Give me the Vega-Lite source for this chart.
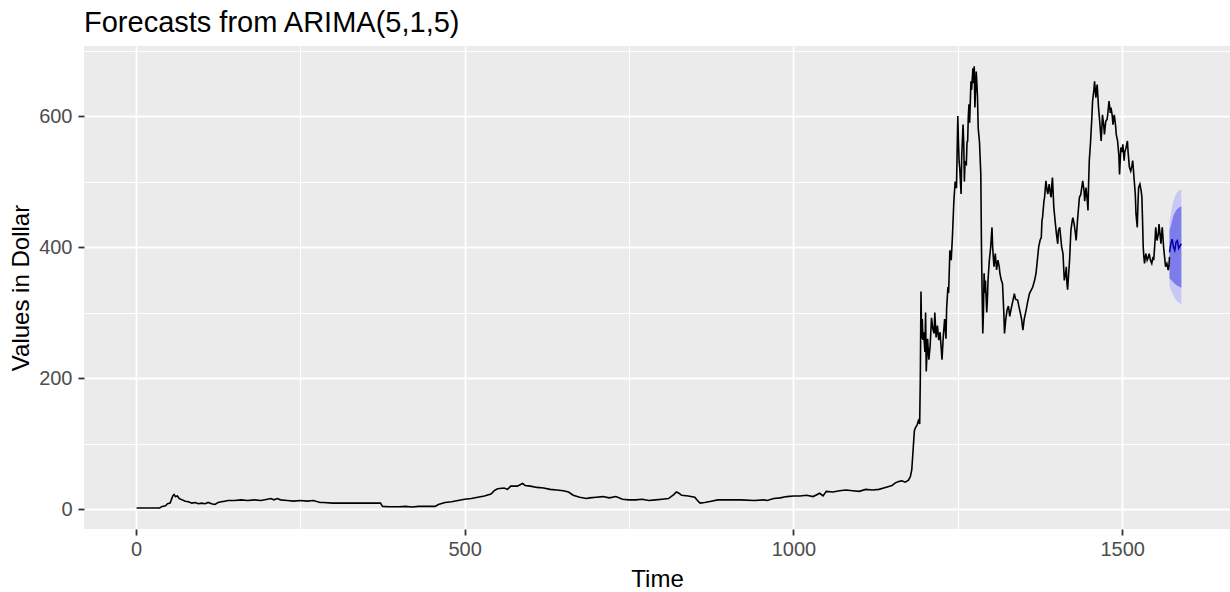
{
  "$schema": "https://vega.github.io/schema/vega-lite/v6.json",
  "autosize": "none",
  "width": 1146,
  "height": 483,
  "padding": {"left": 84, "top": 46, "right": 0, "bottom": 63},
  "background": "white",
  "title": {"text": "Forecasts from ARIMA(5,1,5)", "anchor": "start", "frame": "group", "font": "Liberation Sans", "fontSize": 29, "fontWeight": "normal", "color": "black", "offset": -15, "baseline": "alphabetic"},
  "config": {
    "view": {"fill": "#EBEBEB", "stroke": null},
    "axis": {"ticks": true, "tickSize": 6, "tickWidth": 1.8, "tickColor": "#333333", "domain": false, "gridColor": "white", "labelFont": "Liberation Sans", "labelFontSize": 20, "labelColor": "#4D4D4D", "titleFont": "Liberation Sans", "titleFontSize": 24, "titleFontWeight": "normal", "titleColor": "black"}
  },
  "resolve": {"axis": {"x": "independent", "y": "independent"}},
  "datasets": {
    "series": [
      {"t":1,"v":1.5},{"t":10,"v":1.5},{"t":20,"v":1.5},{"t":30,"v":1.5},{"t":36,"v":1.6},{"t":40,"v":4},{"t":45,"v":5},{"t":48,"v":8},{"t":52,"v":9},{"t":56,"v":20},{"t":58,"v":22},{"t":60,"v":19},{"t":63,"v":20},{"t":66,"v":16},{"t":70,"v":14},{"t":75,"v":12},{"t":80,"v":11},{"t":85,"v":9},{"t":90,"v":10},{"t":95,"v":8},{"t":100,"v":9},{"t":105,"v":8},{"t":110,"v":10},{"t":115,"v":8},{"t":120,"v":7},{"t":125,"v":10},{"t":130,"v":11},{"t":135,"v":12},{"t":140,"v":13},{"t":150,"v":13},{"t":160,"v":14},{"t":170,"v":13},{"t":180,"v":14},{"t":190,"v":13},{"t":200,"v":15},{"t":205,"v":16},{"t":210,"v":14},{"t":215,"v":16},{"t":220,"v":14},{"t":230,"v":13},{"t":240,"v":12},{"t":250,"v":13},{"t":260,"v":12},{"t":270,"v":13},{"t":280,"v":10},{"t":285,"v":10},{"t":300,"v":9},{"t":320,"v":9},{"t":340,"v":9},{"t":360,"v":9},{"t":372,"v":9},{"t":375,"v":4},{"t":385,"v":3.5},{"t":400,"v":3.5},{"t":410,"v":4},{"t":420,"v":3},{"t":430,"v":4},{"t":440,"v":4},{"t":455,"v":4},{"t":460,"v":7},{"t":470,"v":10},{"t":480,"v":11},{"t":490,"v":13},{"t":500,"v":15},{"t":510,"v":16},{"t":520,"v":18},{"t":530,"v":20},{"t":540,"v":23},{"t":545,"v":28},{"t":550,"v":31},{"t":560,"v":32},{"t":565,"v":30},{"t":570,"v":35},{"t":580,"v":35},{"t":588,"v":39},{"t":592,"v":36},{"t":600,"v":35},{"t":610,"v":33},{"t":620,"v":32},{"t":630,"v":30},{"t":640,"v":29},{"t":650,"v":28},{"t":658,"v":26},{"t":665,"v":21},{"t":675,"v":18},{"t":685,"v":16},{"t":690,"v":17},{"t":700,"v":18},{"t":710,"v":19},{"t":720,"v":17},{"t":730,"v":19},{"t":740,"v":15},{"t":750,"v":14},{"t":760,"v":14},{"t":770,"v":15},{"t":780,"v":13},{"t":790,"v":14},{"t":800,"v":15},{"t":810,"v":16},{"t":818,"v":22},{"t":822,"v":26},{"t":826,"v":24},{"t":830,"v":21},{"t":840,"v":20},{"t":850,"v":18},{"t":855,"v":12},{"t":858,"v":9},{"t":865,"v":10},{"t":875,"v":12},{"t":885,"v":14},{"t":900,"v":14},{"t":920,"v":14},{"t":940,"v":13},{"t":955,"v":14},{"t":960,"v":13},{"t":970,"v":16},{"t":980,"v":17},{"t":990,"v":19},{"t":1000,"v":20},{"t":1010,"v":20},{"t":1020,"v":21},{"t":1030,"v":19},{"t":1040,"v":24},{"t":1045,"v":20},{"t":1050,"v":27},{"t":1060,"v":26},{"t":1070,"v":28},{"t":1080,"v":29},{"t":1090,"v":28},{"t":1100,"v":27},{"t":1110,"v":30},{"t":1120,"v":29},{"t":1130,"v":30},{"t":1140,"v":33},{"t":1150,"v":36},{"t":1155,"v":40},{"t":1160,"v":42},{"t":1165,"v":43},{"t":1170,"v":41},{"t":1175,"v":44},{"t":1178,"v":50},{"t":1180,"v":60},{"t":1182,"v":90},{"t":1184,"v":120},{"t":1186,"v":125},{"t":1188,"v":128},{"t":1190,"v":135},{"t":1192,"v":130},{"t":1193,"v":200},{"t":1194,"v":332},{"t":1195,"v":260},{"t":1196,"v":290},{"t":1197,"v":258},{"t":1198,"v":270},{"t":1200,"v":240},{"t":1201,"v":300},{"t":1202,"v":210},{"t":1203,"v":235},{"t":1204,"v":260},{"t":1206,"v":228},{"t":1208,"v":250},{"t":1210,"v":292},{"t":1212,"v":275},{"t":1214,"v":268},{"t":1215,"v":300},{"t":1217,"v":262},{"t":1219,"v":280},{"t":1221,"v":258},{"t":1223,"v":270},{"t":1226,"v":228},{"t":1228,"v":265},{"t":1230,"v":290},{"t":1232,"v":260},{"t":1233,"v":306},{"t":1235,"v":339},{"t":1236,"v":330},{"t":1238,"v":395},{"t":1240,"v":380},{"t":1242,"v":420},{"t":1244,"v":470},{"t":1246,"v":500},{"t":1248,"v":490},{"t":1250,"v":600},{"t":1251,"v":560},{"t":1252,"v":530},{"t":1253,"v":520},{"t":1255,"v":481},{"t":1256,"v":540},{"t":1258,"v":587},{"t":1259,"v":560},{"t":1260,"v":500},{"t":1261,"v":530},{"t":1263,"v":527},{"t":1264,"v":560},{"t":1265,"v":562},{"t":1266,"v":600},{"t":1267,"v":618},{"t":1268,"v":590},{"t":1270,"v":653},{"t":1271,"v":640},{"t":1273,"v":673},{"t":1274,"v":650},{"t":1275,"v":676},{"t":1276,"v":613},{"t":1277,"v":640},{"t":1278,"v":668},{"t":1279,"v":650},{"t":1280,"v":628},{"t":1281,"v":582},{"t":1283,"v":560},{"t":1285,"v":511},{"t":1286,"v":400},{"t":1287,"v":330},{"t":1288,"v":268},{"t":1289,"v":300},{"t":1290,"v":360},{"t":1291,"v":330},{"t":1292,"v":349},{"t":1294,"v":300},{"t":1295,"v":319},{"t":1296,"v":350},{"t":1298,"v":380},{"t":1300,"v":400},{"t":1302,"v":430},{"t":1303,"v":400},{"t":1305,"v":370},{"t":1307,"v":390},{"t":1309,"v":365},{"t":1311,"v":380},{"t":1313,"v":370},{"t":1314,"v":360},{"t":1316,"v":350},{"t":1318,"v":344},{"t":1320,"v":300},{"t":1321,"v":268},{"t":1323,"v":290},{"t":1325,"v":304},{"t":1327,"v":310},{"t":1329,"v":294},{"t":1331,"v":305},{"t":1334,"v":319},{"t":1336,"v":329},{"t":1338,"v":320},{"t":1341,"v":319},{"t":1343,"v":309},{"t":1345,"v":300},{"t":1347,"v":290},{"t":1349,"v":273},{"t":1351,"v":290},{"t":1354,"v":304},{"t":1356,"v":315},{"t":1359,"v":329},{"t":1362,"v":335},{"t":1364,"v":339},{"t":1367,"v":350},{"t":1369,"v":360},{"t":1371,"v":380},{"t":1373,"v":400},{"t":1375,"v":410},{"t":1377,"v":415},{"t":1378,"v":440},{"t":1379,"v":446},{"t":1381,"v":470},{"t":1382,"v":476},{"t":1384,"v":501},{"t":1386,"v":485},{"t":1387,"v":481},{"t":1389,"v":496},{"t":1391,"v":480},{"t":1392,"v":476},{"t":1393,"v":495},{"t":1394,"v":506},{"t":1396,"v":461},{"t":1398,"v":440},{"t":1400,"v":420},{"t":1402,"v":405},{"t":1403,"v":425},{"t":1405,"v":430},{"t":1407,"v":410},{"t":1408,"v":400},{"t":1410,"v":390},{"t":1412,"v":349},{"t":1414,"v":360},{"t":1415,"v":370},{"t":1416,"v":345},{"t":1417,"v":335},{"t":1418,"v":350},{"t":1420,"v":380},{"t":1422,"v":425},{"t":1424,"v":440},{"t":1425,"v":445},{"t":1427,"v":435},{"t":1429,"v":420},{"t":1430,"v":410},{"t":1431,"v":425},{"t":1432,"v":440},{"t":1435,"v":476},{"t":1437,"v":480},{"t":1440,"v":501},{"t":1442,"v":486},{"t":1443,"v":470},{"t":1445,"v":491},{"t":1447,"v":470},{"t":1448,"v":456},{"t":1449,"v":500},{"t":1450,"v":532},{"t":1452,"v":562},{"t":1454,"v":600},{"t":1455,"v":623},{"t":1457,"v":640},{"t":1458,"v":653},{"t":1460,"v":628},{"t":1461,"v":640},{"t":1462,"v":648},{"t":1464,"v":613},{"t":1466,"v":590},{"t":1468,"v":562},{"t":1469,"v":580},{"t":1470,"v":602},{"t":1472,"v":585},{"t":1473,"v":572},{"t":1475,"v":592},{"t":1477,"v":595},{"t":1478,"v":602},{"t":1480,"v":623},{"t":1482,"v":605},{"t":1483,"v":613},{"t":1485,"v":600},{"t":1486,"v":587},{"t":1488,"v":602},{"t":1490,"v":585},{"t":1491,"v":572},{"t":1493,"v":562},{"t":1495,"v":540},{"t":1496,"v":511},{"t":1498,"v":552},{"t":1500,"v":545},{"t":1501,"v":557},{"t":1503,"v":532},{"t":1504,"v":545},{"t":1506,"v":552},{"t":1508,"v":562},{"t":1509,"v":545},{"t":1511,"v":522},{"t":1513,"v":516},{"t":1515,"v":525},{"t":1516,"v":532},{"t":1518,"v":506},{"t":1520,"v":480},{"t":1521,"v":451},{"t":1522,"v":440},{"t":1523,"v":430},{"t":1524,"v":465},{"t":1525,"v":491},{"t":1527,"v":496},{"t":1529,"v":485},{"t":1530,"v":476},{"t":1531,"v":440},{"t":1532,"v":400},{"t":1533,"v":385},{"t":1534,"v":375},{"t":1536,"v":390},{"t":1538,"v":380},{"t":1540,"v":385},{"t":1541,"v":390},{"t":1543,"v":380},{"t":1545,"v":375},{"t":1547,"v":385},{"t":1548,"v":380},{"t":1550,"v":410},{"t":1551,"v":430},{"t":1553,"v":410},{"t":1555,"v":420},{"t":1556,"v":435},{"t":1558,"v":415},{"t":1559,"v":405},{"t":1560,"v":420},{"t":1561,"v":430},{"t":1563,"v":400},{"t":1564,"v":390},{"t":1566,"v":370},{"t":1568,"v":375},{"t":1570,"v":365},{"t":1571,"v":370},{"t":1572,"v":385}
    ],
    "fc": [
      {"t":1572,"mean":392,"lo80":352,"hi80":426,"lo95":340,"hi95":440},
      {"t":1574,"mean":405,"lo80":350,"hi80":432,"lo95":335,"hi95":450},
      {"t":1576,"mean":412,"lo80":348,"hi80":440,"lo95":330,"hi95":462},
      {"t":1578,"mean":400,"lo80":346,"hi80":448,"lo95":326,"hi95":470},
      {"t":1580,"mean":395,"lo80":344,"hi80":452,"lo95":322,"hi95":476},
      {"t":1582,"mean":408,"lo80":342,"hi80":456,"lo95":319,"hi95":481},
      {"t":1584,"mean":410,"lo80":341,"hi80":458,"lo95":317,"hi95":484},
      {"t":1586,"mean":398,"lo80":340,"hi80":460,"lo95":315,"hi95":486},
      {"t":1588,"mean":402,"lo80":339,"hi80":461,"lo95":314,"hi95":487},
      {"t":1590,"mean":405,"lo80":338,"hi80":462,"lo95":312,"hi95":488}
    ]
  },
  "layer": [
    {
      "data": {"name": "fc"},
      "mark": {"type": "area", "color": "#c8c8f4", "opacity": 1},
      "encoding": {
        "x": {"field": "t", "type": "quantitative", "scale": {"domain": [-79, 1664], "nice": false, "zero": false},
          "axis": {"values": [0, 500, 1000, 1500], "format": "d", "grid": true, "gridWidth": 1.8, "labelPadding": 4, "title": "Time", "titlePadding": 8}},
        "y": {"field": "lo95", "type": "quantitative", "scale": {"domain": [-30.5, 707], "nice": false, "zero": false},
          "axis": {"values": [0, 200, 400, 600], "format": "d", "grid": true, "gridWidth": 1.8, "labelPadding": 6, "title": "Values in Dollar", "titlePadding": 5}},
        "y2": {"field": "hi95"}
      }
    },
    {
      "data": {"name": "fc"},
      "mark": {"type": "area", "color": "#7c7cea", "opacity": 1},
      "encoding": {
        "x": {"field": "t", "type": "quantitative", "scale": {"domain": [-79, 1664], "nice": false, "zero": false},
          "axis": {"orient": "top", "values": [250, 750, 1250], "grid": true, "gridWidth": 1, "ticks": false, "labels": false, "title": null}},
        "y": {"field": "lo80", "type": "quantitative", "scale": {"domain": [-30.5, 707], "nice": false, "zero": false},
          "axis": {"orient": "right", "values": [100, 300, 500, 700], "grid": true, "gridWidth": 1, "ticks": false, "labels": false, "title": null}},
        "y2": {"field": "hi80"}
      }
    },
    {
      "data": {"name": "series"},
      "mark": {"type": "line", "color": "black", "strokeWidth": 1.6, "clip": true},
      "encoding": {
        "x": {"field": "t", "type": "quantitative", "scale": {"domain": [-79, 1664], "nice": false, "zero": false}, "axis": null},
        "y": {"field": "v", "type": "quantitative", "scale": {"domain": [-30.5, 707], "nice": false, "zero": false}, "axis": null}
      }
    },
    {
      "data": {"name": "fc"},
      "mark": {"type": "line", "color": "#0000AA", "strokeWidth": 1.5, "clip": true},
      "encoding": {
        "x": {"field": "t", "type": "quantitative", "scale": {"domain": [-79, 1664], "nice": false, "zero": false}, "axis": null},
        "y": {"field": "mean", "type": "quantitative", "scale": {"domain": [-30.5, 707], "nice": false, "zero": false}, "axis": null}
      }
    }
  ]
}
